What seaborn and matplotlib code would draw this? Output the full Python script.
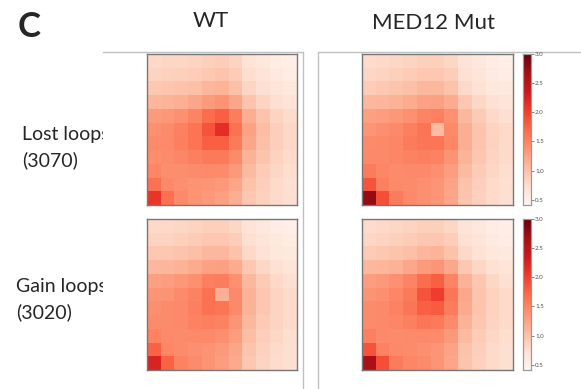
import numpy as np
import matplotlib
matplotlib.use("Agg")
import matplotlib.pyplot as plt
from matplotlib.patches import Rectangle
from matplotlib.lines import Line2D
import seaborn as sns

sns.set_style("white")
plt.rcParams['font.family'] = ['Lato', 'DejaVu Sans']

col_titles = ["WT", "MED12 Mut"]
row_labels = ["Lost loops\n(3070)", "Gain loops\n(3020)"]
cbar_ticks = [0.5, 1.0, 1.5, 2.0, 2.5, 3.0]

wt_lost = [
    [0.80, 0.82, 0.82, 0.85, 0.88, 0.90, 0.85, 0.70, 0.64, 0.56, 0.52],
    [0.85, 0.87, 0.88, 0.90, 0.95, 0.98, 0.92, 0.76, 0.68, 0.60, 0.56],
    [0.95, 0.97, 1.00, 1.02, 1.10, 1.12, 1.02, 0.83, 0.74, 0.66, 0.62],
    [1.10, 1.12, 1.15, 1.22, 1.32, 1.38, 1.22, 0.98, 0.85, 0.74, 0.68],
    [1.32, 1.35, 1.40, 1.50, 1.68, 1.78, 1.55, 1.16, 0.98, 0.85, 0.77],
    [1.40, 1.44, 1.52, 1.62, 1.86, 2.15, 1.64, 1.26, 1.04, 0.89, 0.81],
    [1.44, 1.46, 1.54, 1.62, 1.78, 1.78, 1.58, 1.22, 1.02, 0.89, 0.81],
    [1.42, 1.44, 1.48, 1.54, 1.58, 1.58, 1.44, 1.13, 0.98, 0.86, 0.79],
    [1.48, 1.42, 1.42, 1.44, 1.46, 1.44, 1.33, 1.06, 0.92, 0.82, 0.76],
    [1.64, 1.46, 1.41, 1.38, 1.36, 1.33, 1.22, 1.00, 0.89, 0.79, 0.74],
    [2.08, 1.66, 1.46, 1.38, 1.33, 1.27, 1.16, 0.95, 0.87, 0.79, 0.74],
]
mut_lost = [
    [0.78, 0.80, 0.82, 0.85, 0.88, 0.88, 0.82, 0.68, 0.61, 0.54, 0.51],
    [0.82, 0.85, 0.88, 0.92, 0.95, 0.95, 0.90, 0.73, 0.66, 0.59, 0.54],
    [0.92, 0.95, 0.98, 1.02, 1.08, 1.08, 1.00, 0.80, 0.71, 0.64, 0.60],
    [1.08, 1.10, 1.13, 1.18, 1.26, 1.28, 1.18, 0.95, 0.82, 0.73, 0.67],
    [1.27, 1.30, 1.35, 1.40, 1.50, 1.53, 1.40, 1.08, 0.93, 0.80, 0.74],
    [1.36, 1.41, 1.46, 1.54, 1.62, 1.05, 1.46, 1.16, 0.98, 0.84, 0.79],
    [1.44, 1.46, 1.48, 1.56, 1.61, 1.61, 1.48, 1.16, 0.98, 0.86, 0.79],
    [1.46, 1.46, 1.48, 1.51, 1.54, 1.51, 1.38, 1.11, 0.96, 0.84, 0.79],
    [1.56, 1.48, 1.44, 1.46, 1.46, 1.41, 1.30, 1.06, 0.92, 0.82, 0.76],
    [1.86, 1.54, 1.46, 1.44, 1.41, 1.36, 1.25, 1.00, 0.89, 0.79, 0.74],
    [2.75, 1.90, 1.56, 1.46, 1.41, 1.36, 1.23, 0.98, 0.87, 0.79, 0.74],
]
wt_gain = [
    [0.80, 0.80, 0.82, 0.85, 0.88, 0.88, 0.82, 0.70, 0.62, 0.54, 0.51],
    [0.85, 0.85, 0.88, 0.92, 0.95, 0.95, 0.90, 0.74, 0.66, 0.60, 0.56],
    [0.95, 0.95, 0.98, 1.02, 1.08, 1.08, 1.00, 0.80, 0.71, 0.64, 0.60],
    [1.08, 1.10, 1.13, 1.18, 1.26, 1.28, 1.18, 0.95, 0.82, 0.73, 0.67],
    [1.27, 1.30, 1.35, 1.40, 1.53, 1.55, 1.40, 1.08, 0.93, 0.80, 0.74],
    [1.36, 1.38, 1.44, 1.51, 1.65, 1.15, 1.46, 1.13, 0.96, 0.84, 0.79],
    [1.41, 1.44, 1.46, 1.54, 1.64, 1.61, 1.46, 1.13, 0.96, 0.84, 0.79],
    [1.44, 1.44, 1.46, 1.51, 1.54, 1.51, 1.36, 1.08, 0.93, 0.84, 0.79],
    [1.51, 1.46, 1.44, 1.46, 1.46, 1.41, 1.30, 1.03, 0.89, 0.82, 0.76],
    [1.76, 1.48, 1.44, 1.41, 1.38, 1.33, 1.22, 0.98, 0.87, 0.79, 0.74],
    [2.25, 1.76, 1.51, 1.44, 1.38, 1.30, 1.19, 0.95, 0.85, 0.78, 0.74],
]
mut_gain = [
    [0.78, 0.80, 0.82, 0.85, 0.88, 0.88, 0.82, 0.68, 0.61, 0.54, 0.51],
    [0.82, 0.85, 0.88, 0.92, 0.96, 0.96, 0.90, 0.73, 0.66, 0.59, 0.54],
    [0.92, 0.95, 0.98, 1.02, 1.10, 1.12, 1.00, 0.80, 0.71, 0.64, 0.60],
    [1.08, 1.10, 1.13, 1.21, 1.32, 1.36, 1.21, 0.95, 0.82, 0.73, 0.67],
    [1.30, 1.33, 1.40, 1.50, 1.68, 1.78, 1.50, 1.13, 0.96, 0.82, 0.74],
    [1.38, 1.41, 1.48, 1.58, 1.86, 2.02, 1.61, 1.21, 0.98, 0.86, 0.79],
    [1.44, 1.46, 1.51, 1.61, 1.78, 1.81, 1.56, 1.19, 0.98, 0.86, 0.79],
    [1.44, 1.46, 1.48, 1.54, 1.61, 1.58, 1.44, 1.13, 0.96, 0.84, 0.79],
    [1.54, 1.46, 1.44, 1.46, 1.46, 1.44, 1.33, 1.06, 0.92, 0.82, 0.76],
    [1.86, 1.51, 1.46, 1.44, 1.41, 1.36, 1.25, 1.00, 0.89, 0.79, 0.74],
    [2.62, 1.90, 1.56, 1.48, 1.44, 1.36, 1.23, 0.98, 0.87, 0.79, 0.74],
]

W, H = 581, 389
fig = plt.figure(figsize=(W / 100, H / 100), dpi=100)

def fr(x0, y0, x1, y1):
    return [x0 / W, 1 - y1 / H, (x1 - x0) / W, (y1 - y0) / H]

# Row / column text (drawn below panel backgrounds so it is clipped like the reference)
fig.text(18 / W, 1 - 37 / H, "C", fontsize=25, fontweight="bold", ha="left",
         va="baseline", zorder=-3)
fig.text(211 / W, 1 - 27 / H, col_titles[0], fontsize=16, ha="center", va="baseline", zorder=-3)
fig.text(433 / W, 1 - 29 / H, col_titles[1], fontsize=16, ha="center", va="baseline", zorder=-3)
fig.text(22 / W, 1 - 140 / H, row_labels[0].split("\n")[0], fontsize=14, ha="left",
         va="baseline", zorder=-3)
fig.text(22 / W, 1 - 166 / H, row_labels[0].split("\n")[1], fontsize=14, ha="left",
         va="baseline", zorder=-3)
fig.text(16 / W, 1 - 292 / H, row_labels[1].split("\n")[0], fontsize=14, ha="left",
         va="baseline", zorder=-3)
fig.text(16 / W, 1 - 318 / H, row_labels[1].split("\n")[1], fontsize=14, ha="left",
         va="baseline", zorder=-3)

# Panel backgrounds and borders
fig.patches.append(Rectangle((103 / W, 0), 200 / W, 1 - 52 / H, transform=fig.transFigure,
                             facecolor="white", edgecolor="none", zorder=-2))
fig.patches.append(Rectangle((318 / W, 0), 263 / W, 1 - 52 / H, transform=fig.transFigure,
                             facecolor="white", edgecolor="none", zorder=-2))
lc = "#c0c0c0"
for xs, ys in [((103, 303), (52, 52)), ((303, 303), (52, 389)),
               ((318, 581), (52, 52)), ((318, 318), (52, 389))]:
    fig.lines.append(Line2D([x / W for x in xs], [1 - y / H for y in ys],
                            transform=fig.transFigure, color=lc, lw=1.0, zorder=-1))

mats = [[wt_lost, mut_lost], [wt_gain, mut_gain]]
xpos = [(147, 297), (362, 513)]
ypos = [(54, 205), (219, 370)]
vmin, vmax = 0.41, 3.0

for r in range(2):
    for c in range(2):
        ax = fig.add_axes(fr(xpos[c][0], ypos[r][0], xpos[c][1], ypos[r][1]))
        data = np.array(mats[r][c])
        if c == 1:
            cax = fig.add_axes(fr(523, ypos[r][0], 531, ypos[r][1]))
            sns.heatmap(data, ax=ax, cmap="Reds", vmin=vmin, vmax=vmax, cbar=True,
                        cbar_ax=cax, xticklabels=False, yticklabels=False)
            cax.set_yticks(cbar_ticks)
            cax.set_yticklabels([f"{t:.1f}" for t in cbar_ticks])
            cax.tick_params(axis="y", length=2, width=0.5, labelsize=4.5,
                            colors="#555555", pad=1)
            for s in cax.spines.values():
                s.set_visible(True)
                s.set_color("#999999")
                s.set_linewidth(0.8)
        else:
            sns.heatmap(data, ax=ax, cmap="Reds", vmin=vmin, vmax=vmax, cbar=False,
                        xticklabels=False, yticklabels=False)
        for s in ax.spines.values():
            s.set_visible(True)
            s.set_color("#777777")
            s.set_linewidth(1.0)

fig.savefig("out.png", dpi=100)
